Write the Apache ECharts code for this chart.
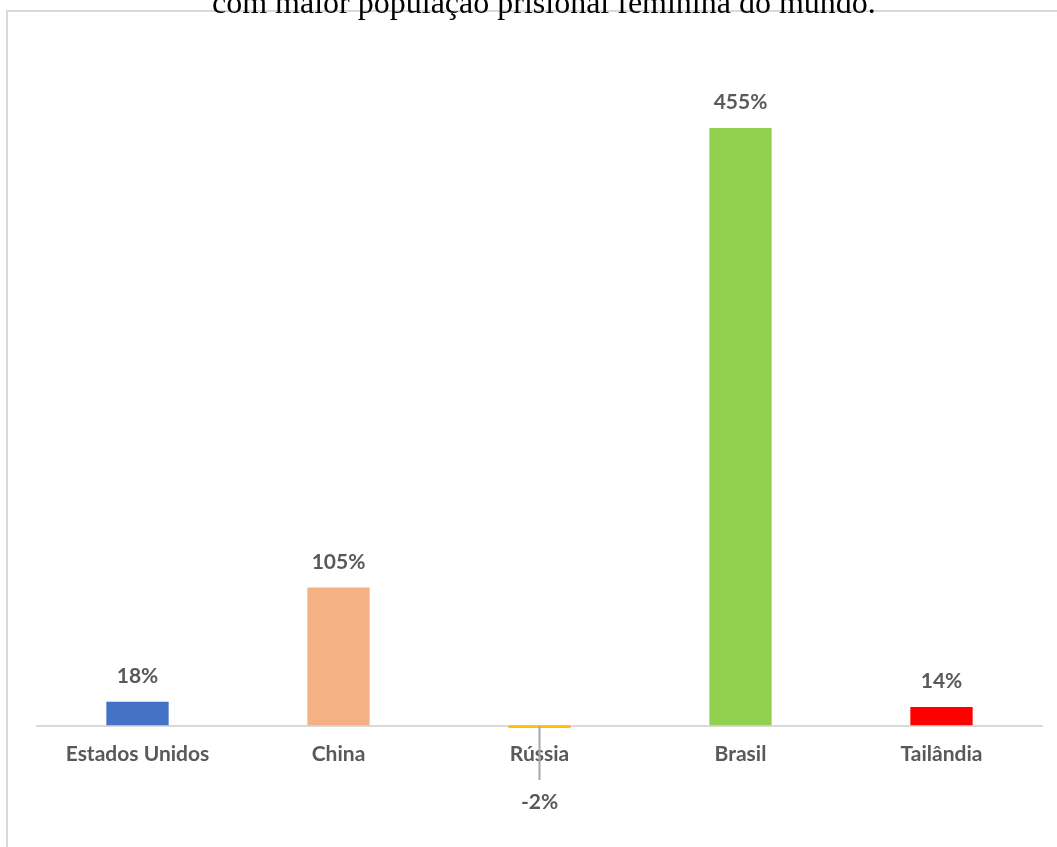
<!DOCTYPE html>
<html>
<head>
<meta charset="utf-8">
<script src="https://cdn.jsdelivr.net/npm/echarts@6/dist/echarts.min.js"></script>
<style>
  html, body { margin: 0; padding: 0; background: #fff; }
  #chart { width: 1057px; height: 847px; }
</style>
</head>
<body>
<div id="chart"></div>
<script>
// Variação da população prisional feminina
const countries = ["Estados Unidos", "China", "Rússia", "Brasil", "Tailândia"];
const growth = [18, 105, -2, 455, 14];
const barColors = ["#4472c4", "#f4b183", "#ffc000", "#92d050", "#ff0000"];

const chart = echarts.init(document.getElementById("chart"));

const labelFont = {
    color: "#595959",
    fontFamily: "Lato",
    fontWeight: "bold",
    fontSize: 21
};

chart.setOption({
    animation: false,
    title: {
        text: "com maior população prisional feminina do mundo.",
        left: 207,
        top: -16,
        textStyle: {
            fontFamily: "Liberation Serif",
            fontWeight: "normal",
            fontSize: 32,
            color: "#000"
        }
    },
    graphic: [{
        type: "polyline",
        shape: { points: [[7, 847], [7, 11], [1057, 11]] },
        style: { stroke: "#d9d9d9", lineWidth: 2, fill: null },
        z: -1
    }],
    grid: {
        left: 37,
        right: 15,
        top: 69,
        bottom: 119
    },
    xAxis: {
        type: "category",
        data: countries,
        axisLine: { lineStyle: { color: "#d9d9d9", width: 2 } },
        axisTick: { show: false },
        axisLabel: Object.assign({ margin: 16 }, labelFont)
    },
    yAxis: {
        type: "value",
        min: -2,
        max: 500,
        show: false,
        splitLine: { show: false }
    },
    series: [{
        type: "bar",
        barWidth: "31%",
        data: growth.map((v, i) => {
            const item = {
                value: v,
                itemStyle: { color: barColors[i] }
            };
            if (v < 0) {
                // rótulo abaixo com linha guia
                item.label = {
                    position: "bottom",
                    distance: -2,
                    formatter: p => "{line| }\n{txt|" + p.value + "%}",
                    rich: {
                        line: {
                            width: 2,
                            height: 54,
                            fontSize: 1,
                            backgroundColor: "#a6a6a6"
                        },
                        txt: Object.assign({ lineHeight: 44 }, labelFont)
                    }
                };
            }
            return item;
        }),
        label: Object.assign({
            show: true,
            position: "top",
            distance: 15,
            formatter: p => p.value + "%"
        }, labelFont)
    }]
});
</script>
</body>
</html>
